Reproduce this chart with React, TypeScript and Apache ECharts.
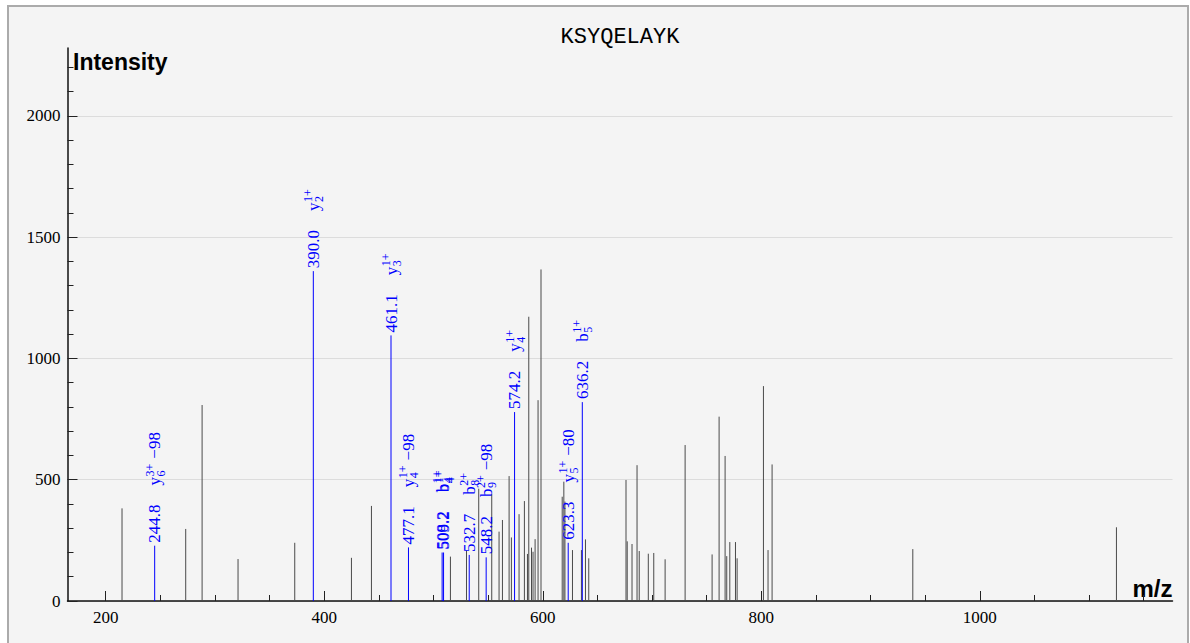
import React, { useEffect, useRef } from 'react';
import * as echarts from 'echarts';

const TITLE = 'KSYQELAYK';
const X_NAME = 'm/z';
const Y_NAME = 'Intensity';

const X_MIN = 165;
const X_MAX = 1176.4;
const Y_MIN = 0;
const Y_MAX = 2280;

const xMajorTicks = [200, 400, 600, 800, 1000];
const xMinorTicks = [250, 300, 350, 450, 500, 550, 650, 700, 750, 850, 900, 950, 1050, 1100, 1150];
const yMajorTicks = [0, 500, 1000, 1500, 2000];
const yMinorTicks = [100, 200, 300, 400, 600, 700, 800, 900, 1100, 1200, 1300, 1400, 1600, 1700, 1800, 1900, 2100, 2200];

// unannotated peaks
const peakMz = [
  214.9, 273.2, 288.2, 321.1, 373.0, 424.9, 443.2, 515.5, 530.2, 541.4,
  553.3, 560.0, 563.1, 569.2, 571.3, 578.3, 583.2, 586.0, 587.2, 589.7,
  591.1, 593.0, 595.7, 598.4, 617.8, 619.3, 620.3, 627.2, 635.4, 639.1,
  642.1, 676.2, 677.3, 681.7, 686.3, 688.3, 696.6, 701.6, 712.0, 730.3,
  755.0, 761.4, 766.9, 768.4, 771.2, 776.4, 777.9, 802.0, 806.2, 809.9,
  938.7, 1125.1,
];
const peakIntensity = [
  382, 297, 808, 173, 240, 178, 392, 183, 208, 463,
  440, 286, 334, 515, 262, 358, 412, 194, 1172, 220,
  203, 255, 828, 1367, 430, 492, 410, 210, 210, 254,
  176, 499, 246, 235, 560, 206, 195, 198, 172, 643,
  192, 760, 598, 185, 243, 243, 176, 886, 210, 563,
  214, 304,
];

// annotated peaks
const ionMz = [244.8, 390.0, 461.1, 477.1, 507.9, 509.2, 532.7, 548.2, 574.2, 623.3, 636.2];
const ionIntensity = [228, 1360, 1095, 221, 200, 200, 190, 180, 779, 240, 820];
const ionMzLabel = ['244.8', '390.0', '461.1', '477.1', '508.2', '509.2', '532.7', '548.2', '574.2', '623.3', '636.2'];
const ionType = ['y', 'y', 'y', 'y', 'b', 'b', 'b', 'b', 'y', 'y', 'b'];
const ionCharge = ['3+', '1+', '1+', '1+', '1+', '1+', '2+', '2+', '1+', '1+', '1+'];
const ionIndex = ['6', '2', '3', '4', '4', '4', '8', '9', '4', '5', '5'];
const ionLoss = ['\u221298', '', '', '\u221298', '', '', '', '\u221298', '', '\u221280', ''];

const SERIF = '"Liberation Serif", "Times New Roman", serif';
const NUM_FONT = '17px ' + SERIF;
const SCRIPT_FONT = '12px ' + SERIF;
const BLUE = '#0000ff';

let measureCtx: CanvasRenderingContext2D | null = null;
function measure(text: string, font: string): number {
  if (!measureCtx) {
    measureCtx = document.createElement('canvas').getContext('2d');
  }
  if (!measureCtx) return text.length * 8;
  measureCtx.font = font;
  return measureCtx.measureText(text).width;
}

function txt(text: string, x: number, y: number, font: string, fill: string) {
  return {
    type: 'text',
    x,
    y,
    style: {
      text,
      font,
      fill,
      align: 'left',
      verticalAlign: 'middle',
      textAlign: 'left',
      textVerticalAlign: 'middle',
    },
  };
}

export default function App() {
  const ref = useRef<HTMLDivElement>(null);

  useEffect(() => {
    if (!ref.current) return;
    const chart = echarts.init(ref.current, null, { renderer: 'svg' });

    const peakData = peakMz.map((m, i) => [m, peakIntensity[i]]);
    const ionData = ionMz.map((m, i) => [m, ionIntensity[i]]);

    const axisBase = {
      type: 'value',
      min: X_MIN,
      max: X_MAX,
      splitLine: { show: false },
    };

    const option: any = {
      animation: false,
      backgroundColor: 'transparent',
      grid: { left: 67.5, right: 17.5, top: 48, bottom: 42, containLabel: false },
      xAxis: [
        {
          ...axisBase,
          position: 'bottom',
          axisLine: { show: true, lineStyle: { color: '#111', width: 1.5 } },
          axisTick: { show: true, inside: true, length: 10, customValues: xMajorTicks, lineStyle: { color: '#222', width: 1 } },
          axisLabel: {
            show: true,
            customValues: xMajorTicks,
            formatter: (v: number) => String(v),
            color: '#000',
            fontFamily: SERIF,
            fontSize: 17,
            margin: 8,
          },
        },
        {
          ...axisBase,
          position: 'bottom',
          axisLine: { show: false },
          axisTick: { show: true, inside: true, length: 6, customValues: xMinorTicks, lineStyle: { color: '#222', width: 1 } },
          axisLabel: { show: false },
        },
      ],
      yAxis: [
        {
          type: 'value',
          min: Y_MIN,
          max: Y_MAX,
          position: 'left',
          axisLine: { show: true, lineStyle: { color: '#111', width: 1.5 } },
          axisTick: { show: true, inside: true, length: 10, customValues: yMajorTicks, lineStyle: { color: '#222', width: 1 } },
          axisLabel: {
            show: true,
            customValues: yMajorTicks,
            formatter: (v: number) => String(v),
            color: '#000',
            fontFamily: SERIF,
            fontSize: 17,
            margin: 7,
          },
          splitLine: { show: true, lineStyle: { color: '#dcdcdc', width: 1 } },
        },
        {
          type: 'value',
          min: Y_MIN,
          max: Y_MAX,
          position: 'left',
          offset: 0,
          axisLine: { show: false },
          axisTick: { show: true, inside: true, length: 6, customValues: yMinorTicks, lineStyle: { color: '#222', width: 1 } },
          axisLabel: { show: false },
          splitLine: { show: false },
        },
      ],
      graphic: [
        {
          type: 'text',
          x: 620,
          y: 37,
          style: {
            text: TITLE,
            font: '22px "Liberation Mono", monospace',
            fill: '#000',
            align: 'center',
            verticalAlign: 'middle',
            textAlign: 'center',
            textVerticalAlign: 'middle',
          },
        },
        {
          type: 'text',
          x: 73,
          y: 62,
          style: {
            text: Y_NAME,
            font: 'bold 23px "Liberation Sans", Arial, sans-serif',
            fill: '#000',
            align: 'left',
            verticalAlign: 'middle',
            textAlign: 'left',
            textVerticalAlign: 'middle',
          },
        },
        {
          type: 'text',
          x: 1172.5,
          y: 588,
          style: {
            text: X_NAME,
            font: 'bold 24px "Liberation Sans", Arial, sans-serif',
            fill: '#000',
            align: 'right',
            verticalAlign: 'middle',
            textAlign: 'right',
            textVerticalAlign: 'middle',
          },
        },
      ],
      series: [
        {
          type: 'custom',
          name: 'peaks',
          xAxisIndex: 0,
          yAxisIndex: 0,
          data: peakData,
          encode: { x: 0, y: 1 },
          renderItem: (params: any, api: any) => {
            const m = api.value(0);
            const v = api.value(1);
            const p0 = api.coord([m, 0]);
            const p1 = api.coord([m, v]);
            return {
              type: 'line',
              shape: { x1: p0[0], y1: p0[1], x2: p1[0], y2: p1[1] },
              style: { stroke: '#4a4a4a', lineWidth: 1 },
            };
          },
          z: 3,
        },
        {
          type: 'custom',
          name: 'ions',
          xAxisIndex: 0,
          yAxisIndex: 0,
          data: ionData,
          encode: { x: 0, y: 1 },
          renderItem: (params: any, api: any) => {
            const i = params.dataIndex;
            const m = api.value(0);
            const v = api.value(1);
            const p0 = api.coord([m, 0]);
            const p1 = api.coord([m, v]);
            const numText = ionMzLabel[i];
            const numW = measure(numText, NUM_FONT);
            const ionX = 3 + numW + 19;
            const tW = measure(ionType[i], NUM_FONT);
            const supW = measure(ionCharge[i], SCRIPT_FONT);
            const subW = measure(ionIndex[i], SCRIPT_FONT);
            const scriptX = ionX + tW + 0.5;
            const lossX = scriptX + Math.max(supW, subW) + 5;
            const labelChildren: any[] = [
              txt(numText, 3, 0, NUM_FONT, BLUE),
              txt(ionType[i], ionX, 0, NUM_FONT, BLUE),
              txt(ionCharge[i], scriptX, -5, SCRIPT_FONT, BLUE),
              txt(ionIndex[i], scriptX, 6, SCRIPT_FONT, BLUE),
            ];
            if (ionLoss[i]) {
              labelChildren.push(txt(ionLoss[i], lossX, 0, NUM_FONT, BLUE));
            }
            return {
              type: 'group',
              children: [
                {
                  type: 'line',
                  shape: { x1: p0[0], y1: p0[1], x2: p1[0], y2: p1[1] },
                  style: { stroke: BLUE, lineWidth: 1 },
                },
                {
                  type: 'group',
                  x: p1[0],
                  y: p1[1],
                  rotation: Math.PI / 2,
                  children: labelChildren,
                },
              ],
            };
          },
          z: 4,
        },
      ],
    };

    chart.setOption(option);
    return () => {
      chart.dispose();
    };
  }, []);

  return (
    <div style={{ position: 'absolute', left: 0, top: 0, width: 1190, height: 643, background: '#ffffff', overflow: 'hidden' }}>
      <div
        style={{
          position: 'absolute',
          left: 7,
          top: 5,
          width: 1178,
          height: 700,
          border: '2.5px solid #ababab',
          background: '#f4f4f4',
        }}
      />
      <div ref={ref} style={{ position: 'absolute', left: 0, top: 0, width: 1190, height: 643 }} />
    </div>
  );
}
